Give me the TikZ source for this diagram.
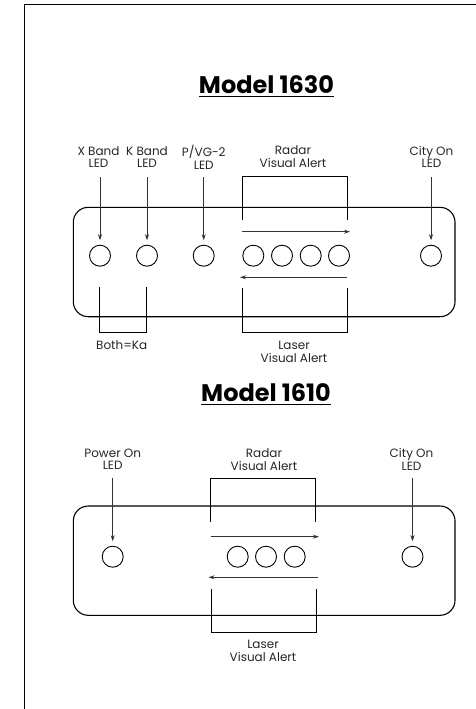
\documentclass[tikz,border=0pt]{standalone}
\usepackage{fontspec}
\setmainfont{Poppins}
\usetikzlibrary{arrows.meta}
\begin{document}
\begin{tikzpicture}[x=1pt,y=-1pt,
  lbl/.style={font=\fontsize{12}{12.8}\selectfont, align=center, inner sep=0pt, text=black!85},
  led/.style={circle, draw, line width=0.9pt, minimum size=21pt, inner sep=0pt},
  panel/.style={draw, line width=1.1pt, rounded corners=15pt},
  ptr/.style={draw=black!80, line width=0.9pt, -{Stealth[length=6pt,width=4pt]}},
  brk/.style={draw, line width=0.9pt},
  ttl/.style={font=\fontsize{24}{28}\selectfont\bfseries, inner sep=0pt},
  uline/.style={draw, line width=1pt}]
\useasboundingbox (0,0) rectangle (476,709);
\draw[line width=1.2pt] (24.5,709) -- (24.5,4.5) -- (476,4.5);

% ---------- Model 1630 ----------
\node[ttl, anchor=base] (t1) at (266.5,93) {Model 1630};
\draw[uline] ([yshift=-3.5pt]t1.base west) -- ([yshift=-3.5pt]t1.base east);

\draw[panel] (73.3,207.3) rectangle (455,316.7);

\node[led] (a1) at (100,255.7) {};
\node[led] (a2) at (147,255.7) {};
\node[led] (a3) at (203.7,255.7) {};
\node[led] (a4) at (253.3,255.7) {};
\node[led] (a5) at (282,255.7) {};
\node[led] (a6) at (310.7,255.7) {};
\node[led] (a7) at (339,255.7) {};
\node[led] (a8) at (431,255.7) {};

\node[lbl] (la1) at (98.5,157) {X Band\\LED};
\node[lbl] (la2) at (147,157) {K Band\\LED};
\node[lbl] (la3) at (203.8,157) {P/VG-2\\LED};
\node[lbl] (la4) at (293,157) {Radar\\Visual Alert};
\node[lbl] (la8) at (431.5,157) {City On\\LED};

\draw[ptr] (a1.center |- 0,177) -- ([yshift=4.5pt]a1.north);
\draw[ptr] (a2.center |- 0,177) -- ([yshift=4.5pt]a2.north);
\draw[ptr] (a3.center |- 0,177) -- ([yshift=4.5pt]a3.north);
\draw[ptr] (a8.center |- 0,177) -- ([yshift=4.5pt]a8.north);

\draw[brk] (242.3,220) -- (242.3,176.7) -- (347.3,176.7) -- (347.3,220);
\draw[ptr] (242.3,231.7) -- (350,231.7);
\draw[ptr] (347.3,277.3) -- (240,277.3);
\draw[brk] (242.3,288.3) -- (242.3,332.3) -- (347.3,332.3) -- (347.3,288.3);
\draw[brk] (99,287.3) -- (99,332.3) -- (146,332.3) -- (146,287.3);

\node[lbl] (ka) at (121.7,345) {Both=Ka};
\node[lbl] (la9) at (294,352) {Laser\\Visual Alert};

% ---------- Model 1610 ----------
\node[ttl, anchor=base] (t2) at (266,401) {Model 1610};
\draw[uline] ([yshift=-3.5pt]t2.base west) -- ([yshift=-3.5pt]t2.base east);

\draw[panel] (73.3,506) rectangle (455,615.3);

\node[led] (b1) at (112.7,556.7) {};
\node[led] (b2) at (237.7,556.7) {};
\node[led] (b3) at (266,556.7) {};
\node[led] (b4) at (294.7,556.7) {};
\node[led] (b5) at (412.5,556.7) {};

\node[lbl] (lb1) at (112.7,459.3) {Power On\\LED};
\node[lbl] (lb2) at (264,459.3) {Radar\\Visual Alert};
\node[lbl] (lb5) at (411.5,459.3) {City On\\LED};

\draw[ptr] (b1.center |- 0,478) -- ([yshift=4.5pt]b1.north);
\draw[ptr] (b5.center |- 0,478) -- ([yshift=4.5pt]b5.north);

\draw[brk] (210.5,521.7) -- (210.5,478) -- (315.7,478) -- (315.7,521.7);
\draw[ptr] (210.5,536.7) -- (319,536.7);
\draw[ptr] (317.7,577.3) -- (208.5,577.3);
\draw[brk] (211.5,589) -- (211.5,632.3) -- (316,632.3) -- (316,589);

\node[lbl] (lb6) at (263,651) {Laser\\Visual Alert};
\end{tikzpicture}
\end{document}
